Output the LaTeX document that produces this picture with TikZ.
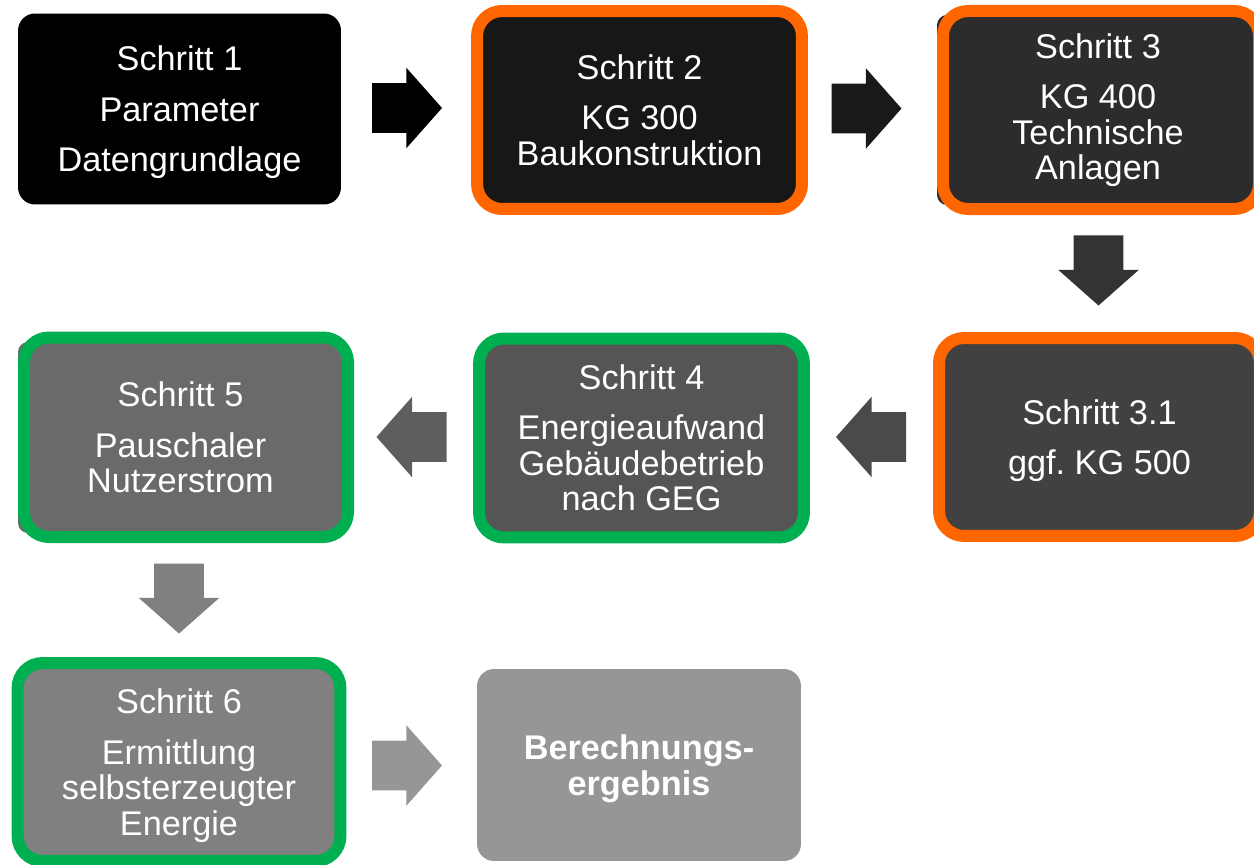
\documentclass[tikz,border=0pt]{standalone}
\usepackage{fontspec}
\setmainfont{Liberation Sans}
\usetikzlibrary{shapes.arrows}
\definecolor{kgorange}{HTML}{FF6600}
\definecolor{geggreen}{HTML}{00B050}
\definecolor{fillzwei}{HTML}{171717}
\definecolor{filldrei}{HTML}{2C2C2C}
\definecolor{filldreieins}{HTML}{414141}
\definecolor{fillvier}{HTML}{555555}
\definecolor{fillfuenf}{HTML}{6A6A6A}
\definecolor{fillsechs}{HTML}{808080}
\definecolor{fillergebnis}{HTML}{969696}
\newcommand{\flatline}[1]{\raisebox{0pt}[\height][0pt]{#1}}
\begin{document}
\begin{tikzpicture}[x=0.02cm,y=-0.02cm,
    stepbox/.style={rounded corners=0.5cm, inner sep=0pt, outer sep=0pt, text=white, align=center,
        font=\fontsize{19.5}{20.2}\selectfont, minimum width=6.5cm, minimum height=3.96cm},
    orangebox/.style={stepbox, draw=kgorange, line width=0.24cm},
    greenbox/.style={stepbox, draw=geggreen, line width=0.24cm},
    backbox/.style={stepbox, rounded corners=0.2cm, minimum height=3.8cm},
    frame/.style={line width=0.24cm, rounded corners=0.5cm},
    blockarr/.style={single arrow, single arrow head extend=0.31cm, single arrow tip angle=97,
        inner xsep=0pt, inner ysep=0.49cm, minimum height=1.4cm, outer sep=0pt}]
    \useasboundingbox (0,0) rectangle (1254,865);
    % first row
    \node[stepbox, fill=black, rounded corners=0.34cm, minimum width=6.46cm, minimum height=3.82cm] (s1) at (179.5,109)
        {Schritt 1\\[8.5pt]Parameter\\[8.5pt]\flatline{Datengrundlage}};
    \node[orangebox, fill=fillzwei] (s2) at (639.5,110) {Schritt 2\\[8.5pt]KG 300\\Baukonstruktion};
    \node[backbox, fill=filldrei, minimum width=6.44cm] (s3) at (1098,110) {Schritt 3\\[8.5pt]KG 400\\Technische\\Anlagen};
    \draw[frame, kgorange] (943,11) rectangle (1259,209);
    % second row
    \node[orangebox, fill=filldreieins, minimum width=6.42cm] (s31) at (1099.5,437) {Schritt 3.1\\[8.5pt]\flatline{ggf.\ KG 500}};
    \node[greenbox, fill=fillvier, minimum height=3.98cm] (s4) at (641.5,438)
        {Schritt 4\\[8.5pt]Energieaufwand\\Gebäudebetrieb\\nach GEG};
    \node[backbox, fill=fillfuenf, minimum width=6.5cm, minimum height=3.82cm] (s5) at (180.5,437.5)
        {Schritt 5\\[8.5pt]Pauschaler\\Nutzerstrom};
    \draw[frame, geggreen] (24,337.5) rectangle (348,537);
    % third row
    \node[greenbox, fill=fillsechs, minimum width=6.46cm] (s6) at (179,762)
        {Schritt 6\\[8.5pt]Ermittlung\\selbsterzeugter\\\flatline{Energie}};
    \node[stepbox, fill=fillergebnis, rounded corners=0.34cm, minimum width=6.48cm, minimum height=3.84cm,
        font=\fontsize{19.5}{20.5}\selectfont\bfseries] (erg) at (639,765) {Berechnungs-\\\flatline{ergebnis}};
    % arrows
    \node[blockarr, fill=black] (a12) at (396,108) {};
    \node[blockarr, fill=black!90] (a23) at (855.5,108.5) {};
    \node[blockarr, fill=black!80, rotate=-90] (a331) at (1098.5,259.5) {};
    \node[blockarr, fill=black!71, rotate=180] (a314) at (882,437) {};
    \node[blockarr, fill=black!63, rotate=180] (a45) at (422.5,437) {};
    \node[blockarr, fill=black!50, rotate=-90] (a56) at (179,587.5) {};
    \node[blockarr, fill=black!41] (a6e) at (396,765.5) {};
\end{tikzpicture}
\end{document}
